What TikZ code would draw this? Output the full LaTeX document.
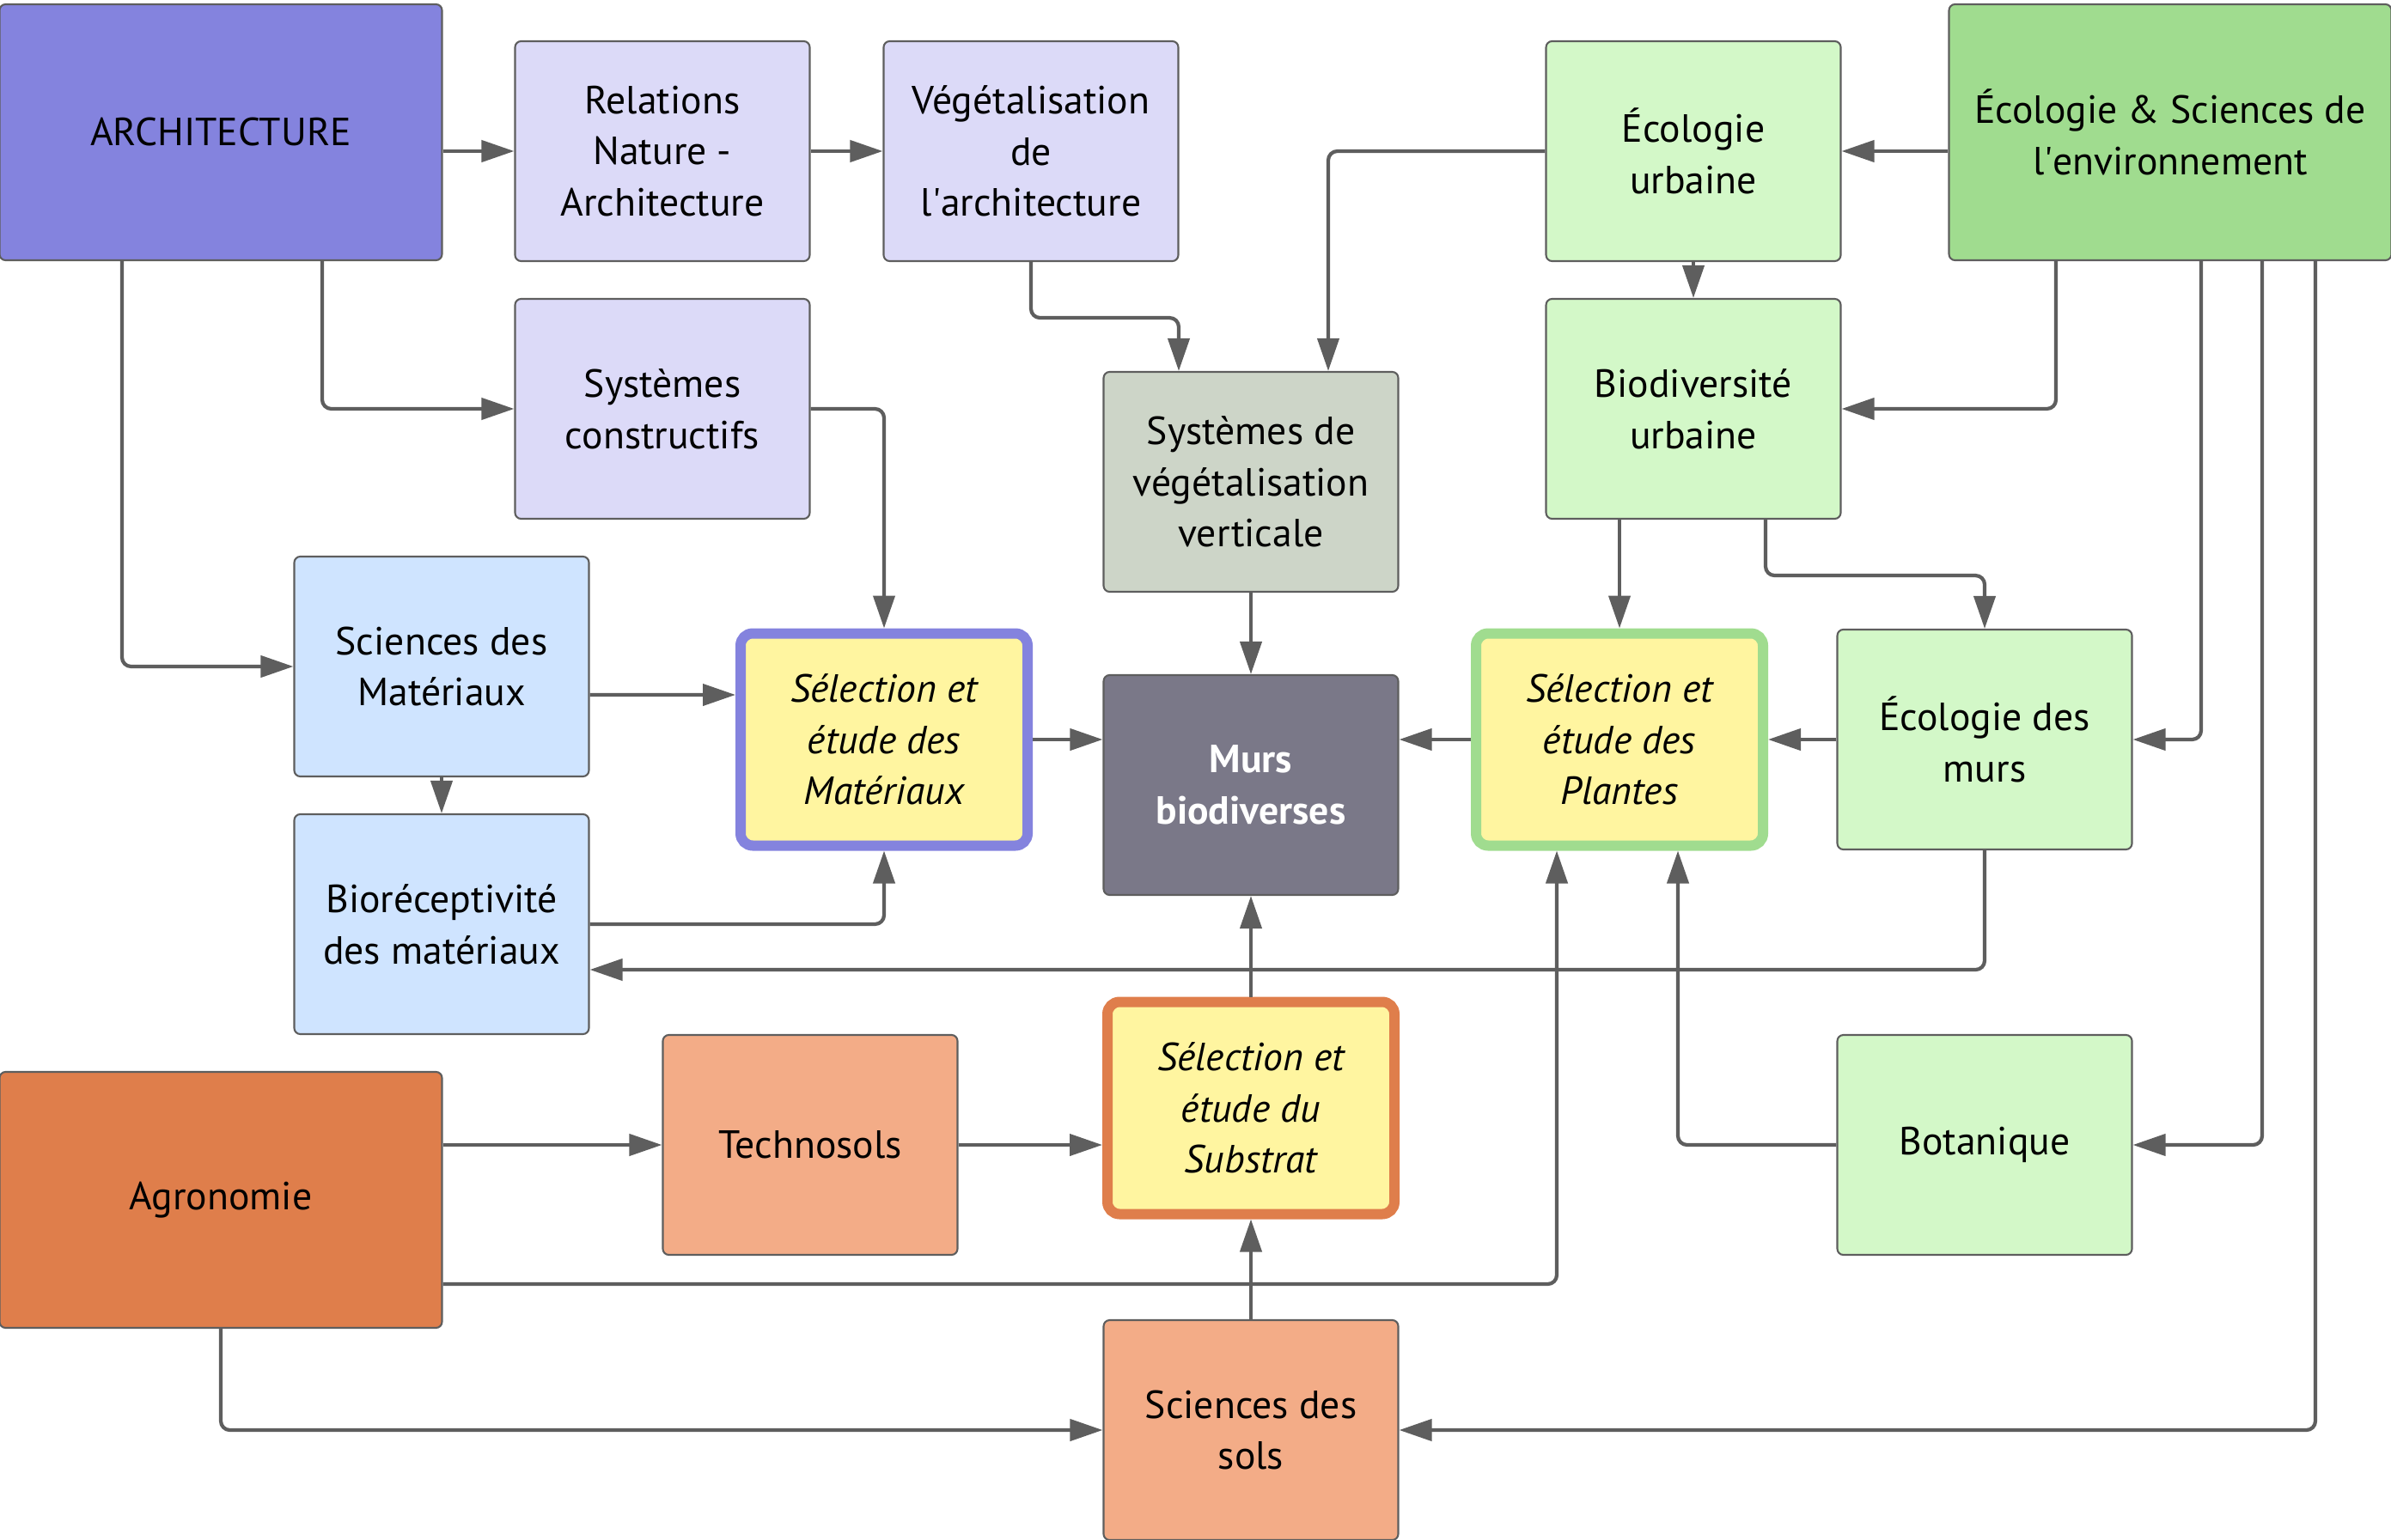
\documentclass[tikz,border=0pt]{standalone}
\usepackage{fontspec}
\setmainfont{PT Sans}
\usetikzlibrary{arrows.meta}

\definecolor{archcol}{HTML}{8483DE}
\definecolor{archlight}{HTML}{DCDAF8}
\definecolor{envcol}{HTML}{A0DC8F}
\definecolor{envlight}{HTML}{D3F8C8}
\definecolor{matlight}{HTML}{CFE4FF}
\definecolor{agrocol}{HTML}{DF7E4B}
\definecolor{agrolight}{HTML}{F3AC87}
\definecolor{selcol}{HTML}{FFF5A0}
\definecolor{vegcol}{HTML}{CDD5C8}
\definecolor{murscol}{HTML}{7A7888}
\definecolor{edgecol}{HTML}{5E5E5E}

\begin{document}
\begin{tikzpicture}[-{Triangle[length=0.38cm,width=0.25cm]}, line width=1.2pt, draw=edgecol, rounded corners=3pt]
  \tikzstyle{box}=[draw=edgecol, line width=0.6pt, rounded corners=2pt, align=center, inner sep=0pt,
    minimum width=3.43cm, minimum height=2.56cm, font=\fontsize{13}{17}\selectfont]
  \tikzstyle{bigbox}=[box, minimum width=5.15cm, minimum height=2.98cm]
  \tikzstyle{selbox}=[box, fill=selcol, line width=0.12cm, rounded corners=4pt, minimum width=3.34cm, minimum height=2.47cm,
    font=\fontsize{13}{17}\selectfont\itshape]
  \useasboundingbox (0,0) rectangle (27.83,-17.93);

  % architecture
  \node[bigbox, fill=archcol] (arch) at (2.57,-1.54) {ARCHITECTURE};
  \node[box, fill=archlight] (relations) at (7.71,-1.76) {Relations\\Nature -\\Architecture};
  \node[box, fill=archlight] (vegarch) at (12.00,-1.76) {Végétalisation\\de\\l\textquotesingle architecture};
  \node[box, fill=archlight] (syscons) at (7.71,-4.76) {Systèmes\\constructifs};
  \node[box, fill=vegcol] (sysveg) at (14.56,-5.61) {Systèmes de\\végétalisation\\verticale};

  % ecologie
  \node[box, fill=envlight] (ecourb) at (19.71,-1.76) {Écologie\\urbaine};
  \node[bigbox, fill=envcol] (ecoenv) at (25.26,-1.54) {Écologie \& Sciences de\\l\textquotesingle environnement};
  \node[box, fill=envlight] (biourb) at (19.71,-4.76) {Biodiversité\\urbaine};
  \node[box, fill=envlight] (ecomurs) at (23.10,-8.61) {Écologie des\\murs};
  \node[box, fill=envlight] (bota) at (23.10,-13.33) {Botanique};

  % materiaux
  \node[box, fill=matlight] (scimat) at (5.14,-7.76) {Sciences des\\Matériaux};
  \node[box, fill=matlight] (biorec) at (5.14,-10.76) {Bioréceptivité\\des matériaux};

  % centre
  \node[selbox, draw=archcol] (selmat) at (10.29,-8.61) {Sélection et\\étude des\\Matériaux};
  \node[box, fill=murscol, text=white, font=\fontsize{13}{17}\selectfont\bfseries] (murs) at (14.56,-9.14) {Murs\\biodiverses};
  \node[selbox, draw=envcol] (selpl) at (18.85,-8.61) {Sélection et\\étude des\\Plantes};
  \node[selbox, draw=agrocol] (selsub) at (14.56,-12.90) {Sélection et\\étude du\\Substrat};

  % sols
  \node[bigbox, fill=agrocol] (agro) at (2.57,-13.97) {Agronomie};
  \node[box, fill=agrolight] (techno) at (9.43,-13.33) {Technosols};
  \node[box, fill=agrolight] (scisols) at (14.56,-16.65) {Sciences des\\sols};

  \draw (arch.east |- relations) -- (relations);
  \draw (relations) -- (vegarch);
  \draw ([xshift=1.18cm]arch.south) |- (syscons);
  \draw ([xshift=-1.15cm]arch.south) |- (scimat);
  \draw (vegarch.south) -- ++(0,-0.65) -| ([xshift=-0.84cm]sysveg.north);
  \draw (ecourb.west) -| ([xshift=0.90cm]sysveg.north);
  \draw (ecoenv.west |- ecourb) -- (ecourb);
  \draw (ecourb) -- (biourb);
  \draw ([xshift=-1.33cm]ecoenv.south) |- (biourb);
  \draw ([xshift=0.36cm]ecoenv.south) |- (ecomurs);
  \draw ([xshift=1.07cm]ecoenv.south) |- (bota);
  \draw ([xshift=1.69cm]ecoenv.south) |- (scisols);
  \draw (syscons.east) -| (selmat);
  \draw ([yshift=-0.33cm]scimat.east) -- ([yshift=0.52cm]selmat.west);
  \draw (scimat) -- (biorec);
  \draw (biorec.east) -| (selmat);
  \draw (selmat.east) -- (selmat.east -| murs.west);
  \draw (sysveg) -- (murs);
  \draw (selpl.west) -- (selpl.west -| murs.east);
  \draw (biourb.south -| selpl) -- (selpl);
  \draw ([xshift=0.84cm]biourb.south) -- ++(0,-0.65) -| (ecomurs);
  \draw (ecomurs) -- (selpl);
  \draw (ecomurs.south) |- ([yshift=-0.53cm]biorec.east);
  \draw (selsub) -- (murs);
  \draw (scisols) -- (selsub);
  \draw (agro.east |- techno) -- (techno);
  \draw (techno) -- (techno -| selsub.west);
  \draw ([yshift=-0.98cm]agro.east) -| ([xshift=-0.73cm]selpl.south);
  \draw (agro.south) |- (scisols);
  \draw (bota.west) -| ([xshift=0.68cm]selpl.south);
\end{tikzpicture}
\end{document}
